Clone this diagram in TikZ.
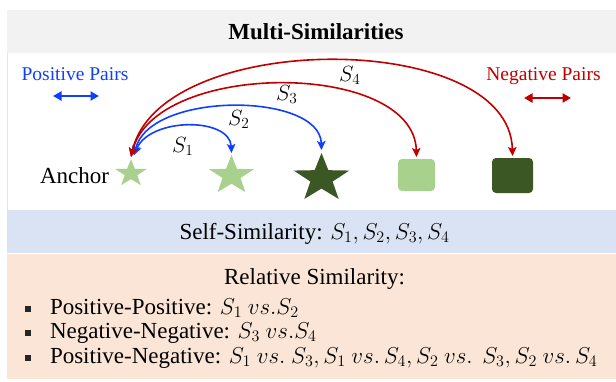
\documentclass[tikz,border=0pt]{standalone}
\usepackage{fix-cm}
\usepackage{fontspec}
\setmainfont{Liberation Serif}
\newfontfamily\tnr{Liberation Serif}
\usetikzlibrary{arrows.meta,shapes.geometric}
\definecolor{bandgray}{HTML}{F2F2F2}
\definecolor{bandblue}{HTML}{DAE3F3}
\definecolor{bandorange}{HTML}{FBE5D6}
\definecolor{framegray}{HTML}{E6E6E6}
\definecolor{lightgreen}{HTML}{A9D18E}
\definecolor{darkgreen}{HTML}{3B5724}
\definecolor{posblue}{HTML}{1040FF}
\definecolor{negred}{HTML}{C00000}
\begin{document}
\begin{tikzpicture}[x=1pt,y=-1pt,
  bodytext/.style={font=\tnr\fontsize{23}{26}\selectfont, inner sep=0pt, outer sep=0pt},
  legtext/.style={font=\tnr\fontsize{19.5}{22}\selectfont, inner sep=0pt, outer sep=0pt},
  simlabel/.style={font=\tnr\fontsize{22}{26}\selectfont, inner sep=0pt, outer sep=0pt, anchor=base west},
  starshape/.style={star, star points=5, star point ratio=2.5, inner sep=0pt, outer sep=0pt, draw=none, xscale=1.15, transform shape},
  boxshape/.style={rectangle, rounded corners=4pt, inner sep=0pt, outer sep=0pt, draw=none},
  bulletbox/.style={rectangle, fill=black!85, minimum size=6pt, inner sep=0pt},
  posarc/.style={draw=posblue, line width=1.6pt, {Stealth[length=9pt,width=8.5pt,inset=2pt]}-{Stealth[length=9pt,width=8.5pt,inset=2pt]}},
  negarc/.style={draw=negred, line width=1.6pt, {Stealth[length=9pt,width=8.5pt,inset=2pt]}-{Stealth[length=9pt,width=8.5pt,inset=2pt]}},
  legarrow/.style={line width=2.2pt, {Triangle[length=8.5pt,width=9pt]}-{Triangle[length=8.5pt,width=9pt]}}
]
\path[use as bounding box, fill=white] (0,0) rectangle (616,381);
% bands
\fill[bandgray] (7,10) rectangle (616,53);
\fill[bandblue] (7,210) rectangle (616,252.5);
\fill[bandorange] (7,253.5) rectangle (616,379);
\draw[framegray, line width=0.8pt] (7.4,53) -- (7.4,210);

% title
\node[bodytext, font=\tnr\bfseries\fontsize{23}{26}\selectfont, anchor=base] (title) at (316,39) {Multi-Similarities};

% legends
\node[legtext, text=posblue, anchor=base] (posleg) at (75,80) {Positive Pairs};
\node[legtext, text=negred, anchor=base] (negleg) at (543.5,80) {Negative Pairs};
\coordinate (pa) at (53,96);
\coordinate (pb) at (99,96);
\coordinate (na) at (524,98);
\coordinate (nb) at (571,98);
\draw[legarrow, posblue] (pa) -- (pb);
\draw[legarrow, negred] (na) -- (nb);

% samples
\node[bodytext, anchor=base west] (anchortext) at (40,183) {Anchor};
\node[starshape, fill=lightgreen, minimum size=28.8pt] (anc) at (131,173.4) {};
\node[starshape, fill=lightgreen, minimum size=41pt] (p1) at (231.5,175.5) {};
\node[starshape, fill=darkgreen, minimum size=50.8pt] (p2) at (321.5,178.4) {};
\node[boxshape, fill=lightgreen, minimum width=37pt, minimum height=32pt] (n1) at (416.5,175) {};
\node[boxshape, fill=darkgreen, minimum width=41pt, minimum height=35pt] (n2) at (512.5,175.5) {};

% arcs
\draw[posarc] ([xshift=3pt,yshift=4pt]anc.north) .. controls (150,117) and (230,117) .. ([yshift=2pt]p1.north);
\draw[posarc] ([xshift=3pt,yshift=4pt]anc.north) .. controls (150,91) and (320,92) .. ([yshift=3pt]p2.north);
\draw[negarc] ([yshift=2pt]anc.north) .. controls (155,60) and (414,60) .. ([yshift=2pt]n1.north);
\draw[negarc] ([yshift=2pt]anc.north) .. controls (160,29) and (510,29) .. ([yshift=2pt]n2.north);

\node[simlabel] (s1) at (172,152) {$S_1$};
\node[simlabel] (s2) at (228,125) {$S_2$};
\node[simlabel] (s3) at (276,100) {$S_3$};
\node[simlabel] (s4) at (339,81) {$S_4$};

% self similarity
\node[bodytext, anchor=base] (self) at (314.5,239) {Self-Similarity: $S_1, S_2, S_3, S_4$};

% relative similarity
\node[bodytext, anchor=base] (rel) at (314.5,284) {Relative Similarity:};
\node[bulletbox] (b1) at (27.5,308.5) {};
\node[bulletbox] (b2) at (27.5,332.5) {};
\node[bulletbox] (b3) at (27.5,357.5) {};
\node[bodytext, anchor=base west] (l1) at (50,314) {Positive-Positive: $S_1\ vs.S_2$};
\node[bodytext, anchor=base west] (l2) at (50,338) {Negative-Negative: $S_3\ vs.S_4$};
\node[bodytext, anchor=base west] (l3) at (50,363) {Positive-Negative: $S_1\ vs.\ S_3, S_1\ vs.\,S_4, S_2\ vs.\ \,S_3, S_2\ vs.\,S_4$};
\end{tikzpicture}
\end{document}
